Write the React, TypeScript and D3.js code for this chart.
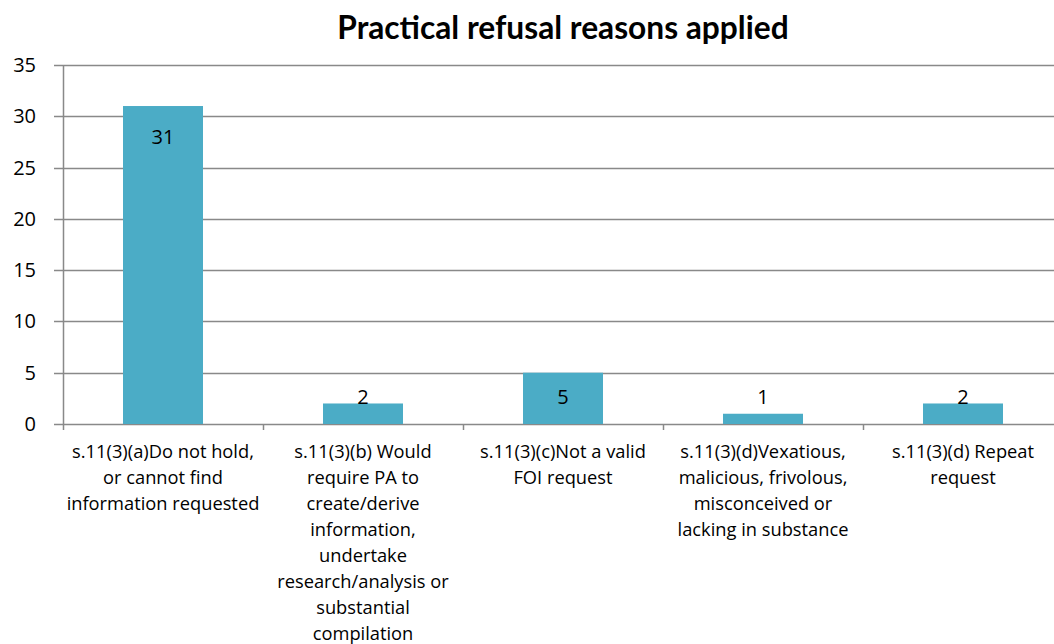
import React, { useRef, useEffect } from 'react';
import * as d3 from 'd3';

const CATEGORIES: string[][] = [
  ['s.11(3)(a)Do not hold,', 'or cannot find', 'information requested'],
  ['s.11(3)(b) Would', 'require PA to', 'create/derive', 'information,', 'undertake', 'research/analysis or', 'substantial', 'compilation'],
  ['s.11(3)(c)Not a valid', 'FOI request'],
  ['s.11(3)(d)Vexatious,', 'malicious, frivolous,', 'misconceived or', 'lacking in substance'],
  ['s.11(3)(d) Repeat', 'request'],
];
const VALUES: number[] = [31, 2, 5, 1, 2];
const Y_TICKS: number[] = [0, 5, 10, 15, 20, 25, 30, 35];
const TITLE = 'Practical refusal reasons applied';

const FONT = '"Open Sans", "Noto Sans", sans-serif';
const TITLE_FONT = 'Lato, sans-serif';
const GRID = '#898989';
const BAR = '#4BACC6';

const App: React.FC = () => {
  const svgRef = useRef<SVGSVGElement>(null);

  useEffect(() => {
    if (!svgRef.current) return;
    document.body.style.margin = '0';

    const margin = { top: 65, left: 63 };
    const plotW = 1000;
    const plotH = 359;

    const svg = d3.select(svgRef.current);
    svg.selectAll('*').remove();

    const keys = CATEGORIES.map((_, i) => String(i));
    const x = d3.scaleBand().domain(keys).range([0, plotW]).paddingInner(0.6).paddingOuter(0.3);
    const xb = d3.scaleBand().domain(keys).range([0, plotW]);
    const y = d3.scaleLinear().domain([0, 35]).range([plotH, 0]);

    // Title
    svg.append('text')
      .attr('x', margin.left + plotW / 2)
      .attr('y', 39)
      .attr('text-anchor', 'middle')
      .attr('font-family', TITLE_FONT)
      .attr('font-weight', 'bold')
      .attr('font-size', 31.7)
      .attr('fill', '#000')
      .text(TITLE);

    const g = svg.append('g').attr('transform', `translate(${margin.left},${margin.top})`);

    // Gridlines
    g.append('g')
      .selectAll('line')
      .data(Y_TICKS)
      .join('line')
      .attr('x1', -9)
      .attr('x2', plotW)
      .attr('y1', d => Math.round(y(d)) + 0.5)
      .attr('y2', d => Math.round(y(d)) + 0.5)
      .attr('stroke', GRID)
      .attr('stroke-width', 1.5);

    // Y labels
    g.append('g')
      .selectAll('text')
      .data(Y_TICKS)
      .join('text')
      .attr('x', -27)
      .attr('y', d => y(d))
      .attr('dy', '0.35em')
      .attr('text-anchor', 'end')
      .attr('font-family', FONT)
      .attr('font-size', 20)
      .attr('fill', '#000')
      .text(d => d);

    // Bars
    g.append('g')
      .selectAll('rect')
      .data(VALUES)
      .join('rect')
      .attr('x', (_, i) => x(String(i))!)
      .attr('width', x.bandwidth())
      .attr('y', d => y(d))
      .attr('height', d => y(0) - y(d))
      .attr('fill', BAR);

    // Y axis line
    g.append('line')
      .attr('x1', 0.5).attr('x2', 0.5)
      .attr('y1', 0).attr('y2', plotH + 6)
      .attr('stroke', GRID)
      .attr('stroke-width', 1.5);

    // X ticks at category boundaries
    g.append('g')
      .selectAll('line')
      .data(keys.map((k, i) => i + 1))
      .join('line')
      .attr('x1', i => i * xb.bandwidth() + 0.5)
      .attr('x2', i => i * xb.bandwidth() + 0.5)
      .attr('y1', plotH)
      .attr('y2', plotH + 6)
      .attr('stroke', GRID)
      .attr('stroke-width', 1.5);

    // Data labels: tall bars get label inside end, short bars at base
    g.append('g')
      .selectAll('text')
      .data(VALUES)
      .join('text')
      .attr('x', (_, i) => x(String(i))! + x.bandwidth() / 2)
      .attr('y', d => (y(0) - y(d) > 100 ? y(d) + 31 : y(0) - 27))
      .attr('dy', '0.35em')
      .attr('text-anchor', 'middle')
      .attr('font-family', FONT)
      .attr('font-size', 20)
      .attr('fill', '#000')
      .text(d => d);

    // Category labels
    const cat = g.append('g')
      .selectAll('text')
      .data(CATEGORIES)
      .join('text')
      .attr('x', (_, i) => xb(String(i))! + xb.bandwidth() / 2)
      .attr('y', plotH + 28)
      .attr('dy', '0.35em')
      .attr('text-anchor', 'middle')
      .attr('font-family', FONT)
      .attr('font-size', 18.3)
      .attr('fill', '#000');
    cat.selectAll('tspan')
      .data(d => d)
      .join('tspan')
      .attr('x', function () {
        return (this.parentNode as SVGTextElement).getAttribute('x');
      })
      .attr('dy', (_, j) => (j === 0 ? '0.35em' : '25.9px'))
      .text(d => d);
  }, []);

  return <svg ref={svgRef} width={1054} height={644} style={{ display: 'block', background: '#fff' }} />;
};

export default App;
